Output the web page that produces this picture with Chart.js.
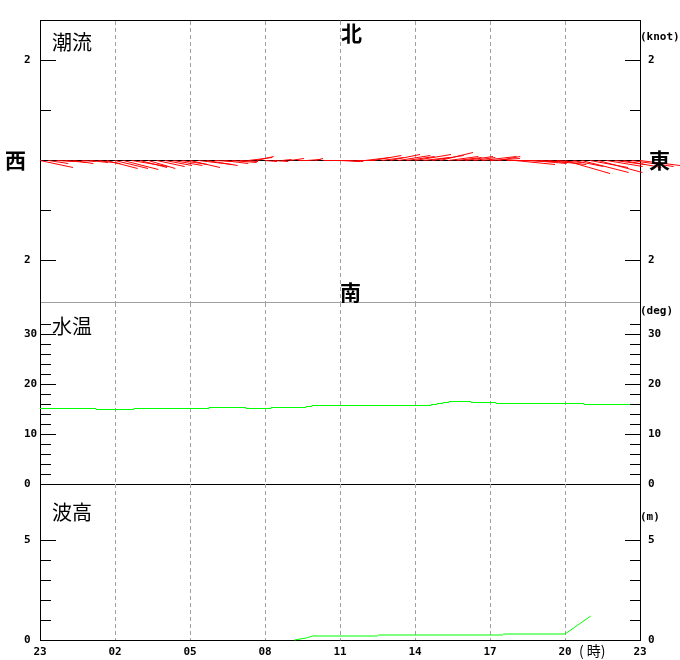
<!DOCTYPE html>
<html><head><meta charset="utf-8">
<script src="https://cdn.jsdelivr.net/npm/chart.js@4"></script>
<style>
html,body{margin:0;padding:0;background:#fff;}
#wrap{position:relative;width:680px;height:660px;overflow:hidden;background:#fff;}
#wrap canvas{position:absolute;left:0;top:0;}
.lbl{position:absolute;white-space:nowrap;line-height:1;color:#000;}
.jp{font-family:"Noto Sans CJK JP","Noto Sans CJK SC",sans-serif;}
.dir{font-weight:bold;font-size:21px;}
.panel{font-size:20px;font-weight:400;}
.unit{font-family:"DejaVu Sans Mono",monospace;font-weight:bold;font-size:11px;}
.hr{font-size:14px;}
</style></head><body>
<div id="wrap">
<canvas id="c1" width="680" height="660"></canvas>
<canvas id="c2" width="680" height="660"></canvas>
<canvas id="c3" width="680" height="660"></canvas>
<div class="lbl jp panel" style="left:52px;top:32px">潮流</div>
<div class="lbl jp panel" style="left:52px;top:316px">水温</div>
<div class="lbl jp panel" style="left:52px;top:502px">波高</div>
<div class="lbl jp dir" style="left:341px;top:22px">北</div>
<div class="lbl jp dir" style="left:340px;top:281px">南</div>
<div class="lbl jp dir" style="left:5px;top:149px">西</div>
<div class="lbl jp dir" style="left:649px;top:149px">東</div>
<div class="lbl unit" style="left:640px;top:31px">(knot)</div>
<div class="lbl unit" style="left:640px;top:305px">(deg)</div>
<div class="lbl unit" style="left:640px;top:511px">(m)</div>
<div class="lbl jp hr" style="left:579px;top:643px">( 時)</div>
</div>
<script>
// ---- X axis (hours from 23:00) ----
const gridHours = [0, 3, 6, 9, 12, 15, 18, 21, 24];
const hourLabels = ['23', '02', '05', '08', '11', '14', '17', '20', '23'];

// ---- Tidal current (knots), every 20 minutes from 23:00 ----
const curMin = [0,20,40,60,80,100,120,140,160,180,200,220,240,260,280,300,320,340,360,380,400,420,440,460,480,500,520,540,560,580,600,620,640,660,680,700,720,740,760,780,800,820,840,860,880,900,920,940,960,980,1000,1020,1040,1060,1080,1100,1120,1140,1160,1180,1200,1220,1240,1260,1280,1300,1320,1340,1360,1380,1400,1420,1440];
const curEast = [
 0.66,0.40,0.36,0.44,0.40,0.28,0.36,0.44,0.62,0.66,
 0.70,0.72,0.54,0.54,0.56,0.54,0.58,0.52,0.60,0.68,
 0.62,0.36,0.50,0.50,0.36,0.48,0.34,0.24,0.30,0.20,
 0.28,0.24,0.28,0.16,0.24,0.36,0.40,0.30,0.36,0.50,
 0.56,0.44,0.60,0.64,0.56,0.72,0.52,0.64,0.66,0.60,
 0.50,0.56,0.44,0.70,0.60,0.44,0.60,0.80,0.60,0.70,
 0.56,0.76,0.50,0.90,0.60,0.94,0.76,0.88,0.72,0.60,
 0.76,0.84,0.80];
const curNorth = [
 -0.14,-0.06,-0.02,-0.04,-0.06,-0.02,-0.04,-0.06,-0.16,-0.16,
 -0.18,-0.12,-0.14,-0.16,-0.12,-0.10,-0.10,-0.08,-0.14,-0.08,
 -0.10,-0.02,-0.06,-0.04,-0.02,0.06,0.08,-0.02,-0.02,0.02,
 0.04,0.00,0.02,0.04,0.00,0.00,-0.02,-0.02,0.00,0.06,
 0.10,0.06,0.12,0.10,0.08,0.12,0.06,0.10,0.16,0.08,
 0.06,0.08,0.06,0.08,0.04,0.08,0.00,-0.08,-0.02,-0.06,
 -0.04,-0.08,-0.04,-0.26,-0.12,-0.24,-0.14,-0.24,-0.12,-0.08,
 -0.14,-0.12,-0.10];
const curTickVals = [-2, -1, 0, 1, 2];
const curTickText = ['2', '', '', '', '2'];
const curMarks = [-2, -1, 1, 2];
const curMajor = [-2, 2];

// ---- Water temperature (deg C), value holds from each time to the next ----
const tempT = [0, 2.24, 3.76, 6.76, 8.24, 9.24, 10.64, 10.88, 15.64, 15.88, 16.12, 16.36, 17.24, 18.24, 21.76, 24];
const tempV = [15.1, 14.9, 15.1, 15.3, 15.1, 15.3, 15.5, 15.7, 15.9, 16.1, 16.3, 16.5, 16.3, 16.1, 15.9, 15.9];
const tempTickVals = [0, 10, 20, 30];
const tempMarks = [2,4,6,8,10,12,14,16,18,20,22,24,26,28,30,32];
const tempMajor = [10, 20, 30];

// ---- Wave height (m) ----
const waveT = [10.17, 10.4, 10.65, 10.9, 13.5, 13.55, 18.5, 18.55, 21.0, 22.03];
const waveV = [0, 0.05, 0.1, 0.2, 0.2, 0.25, 0.25, 0.3, 0.3, 1.2];
const waveTickVals = [0, 5];
const waveMarks = [1, 2, 3, 4, 5];
const waveMajor = [5];

// ---- layout constants ----
const TF = {family: 'DejaVu Sans Mono', size: 11, weight: 'bold'};
const CUR_MIN = -2.83, CUR_MAX = 2.81;
const P1_TOP = 20, P1_BOT = 302, PLOT_W = 600;
// hours per knot so that stick vectors are drawn with equal scale in x and y
const K = ((P1_BOT - P1_TOP) / (CUR_MAX - CUR_MIN)) / (PLOT_W / 24);

const stickPts = [];
curMin.forEach((m, i) => {
  const t = m / 60;
  stickPts.push({x: t, y: 0}, {x: t + curEast[i] * K, y: curNorth[i]}, {x: t, y: null});
});

const innerTicks = {
  id: 'innerTicks',
  afterDraw(chart, args, opts) {
    if (!opts || !opts.values) return;
    const ys = chart.scales.y, a = chart.chartArea, ctx = chart.ctx;
    ctx.save();
    ctx.strokeStyle = '#000';
    ctx.lineWidth = 1;
    opts.values.forEach(v => {
      const y = Math.floor(ys.getPixelForValue(v)) + 0.5;
      const maj = opts.major.includes(v);
      ctx.beginPath();
      ctx.moveTo(a.left, y); ctx.lineTo(a.left + (maj ? 16 : 11), y);
      ctx.moveTo(a.right - (maj ? 15 : 10), y); ctx.lineTo(a.right, y);
      ctx.stroke();
    });
    ctx.restore();
  }
};

const gridColor = c => (c.tick && c.tick.value > 0 && c.tick.value < 24) ? '#a0a0a0' : 'rgba(0,0,0,0)';
function xScale(pos, withGrid, borderColor, labels) {
  return {
    type: 'linear', position: pos, min: 0, max: 24,
    afterBuildTicks: s => { s.ticks = gridHours.map(v => ({value: v})); },
    afterFit: s => { s.height = labels ? 20 : 0; },
    ticks: labels ? {display: true, autoSkip: false, maxRotation: 0, padding: 6, font: TF, color: '#000',
                     callback: (v, i) => hourLabels[i]} : {display: false},
    grid: withGrid ? {drawTicks: false, color: gridColor, lineWidth: 1} : {display: false, drawTicks: false},
    border: {display: true, color: borderColor, dash: [4, 3]}
  };
}
function yScales(min, max, vals, texts, zeroLine) {
  const cb = (v) => { const i = vals.indexOf(v); return i >= 0 ? texts[i] : ''; };
  return {
    y: {type: 'linear', position: 'left', min, max,
        afterBuildTicks: s => { s.ticks = vals.map(v => ({value: v})); },
        afterFit: s => { s.width = 16; },
        ticks: {autoSkip: false, crossAlign: 'far', padding: 0, font: TF, color: '#000', callback: cb},
        grid: zeroLine ? {drawTicks: false, color: c => (c.tick && c.tick.value === 0) ? '#000' : 'rgba(0,0,0,0)'} : {display: false, drawTicks: false},
        border: {display: true, color: '#000'}},
    yr: {type: 'linear', position: 'right', min, max,
        afterBuildTicks: s => { s.ticks = vals.map(v => ({value: v})); },
        afterFit: s => { s.width = 40; },
        ticks: {autoSkip: false, padding: 8, font: TF, color: '#000', callback: cb},
        grid: {display: false, drawTicks: false},
        border: {display: true, color: '#000'}}
  };
}
const base = {responsive: false, animation: false, events: [], devicePixelRatio: 1};

// Panel 1: tidal current sticks
new Chart(document.getElementById('c1'), {
  type: 'scatter',
  data: {datasets: [{data: stickPts, showLine: true, spanGaps: false, borderColor: '#ff0000',
                     borderWidth: 1, pointRadius: 0, clip: false}]},
  options: Object.assign({}, base, {
    layout: {padding: {top: 20, left: 24, right: 0, bottom: 358}},
    plugins: {legend: {display: false}, tooltip: {enabled: false},
              innerTicks: {values: curMarks, major: curMajor}},
    scales: Object.assign({x: xScale('top', true, '#000', false)},
                          yScales(CUR_MIN, CUR_MAX, curTickVals, curTickText, true))
  }),
  plugins: [innerTicks]
});

// Panel 2: water temperature
new Chart(document.getElementById('c2'), {
  type: 'scatter',
  data: {datasets: [{data: tempT.map((t, i) => ({x: t, y: tempV[i]})), showLine: true, stepped: true,
                     borderColor: '#00ff00', borderWidth: 1, pointRadius: 0, clip: false}]},
  options: Object.assign({}, base, {
    layout: {padding: {top: 302, left: 24, right: 0, bottom: 176}},
    plugins: {legend: {display: false}, tooltip: {enabled: false},
              innerTicks: {values: tempMarks, major: tempMajor}},
    scales: Object.assign({x: xScale('top', true, '#a0a0a0', false), x2: xScale('bottom', false, '#000', false)},
                          yScales(0, 36.4, tempTickVals, tempTickVals.map(String), false))
  }),
  plugins: [innerTicks]
});

// Panel 3: wave height
new Chart(document.getElementById('c3'), {
  type: 'scatter',
  data: {datasets: [{data: waveT.map((t, i) => ({x: t, y: waveV[i]})), showLine: true,
                     borderColor: '#00ff00', borderWidth: 1, pointRadius: 0, clip: false}]},
  options: Object.assign({}, base, {
    layout: {padding: {top: 484, left: 24, right: 0, bottom: 0}},
    plugins: {legend: {display: false}, tooltip: {enabled: false},
              innerTicks: {values: waveMarks, major: waveMajor}},
    scales: Object.assign({x: xScale('bottom', true, '#000', true)},
                          yScales(0, 7.8, waveTickVals, waveTickVals.map(String), false))
  }),
  plugins: [innerTicks]
});
</script>
</body></html>
